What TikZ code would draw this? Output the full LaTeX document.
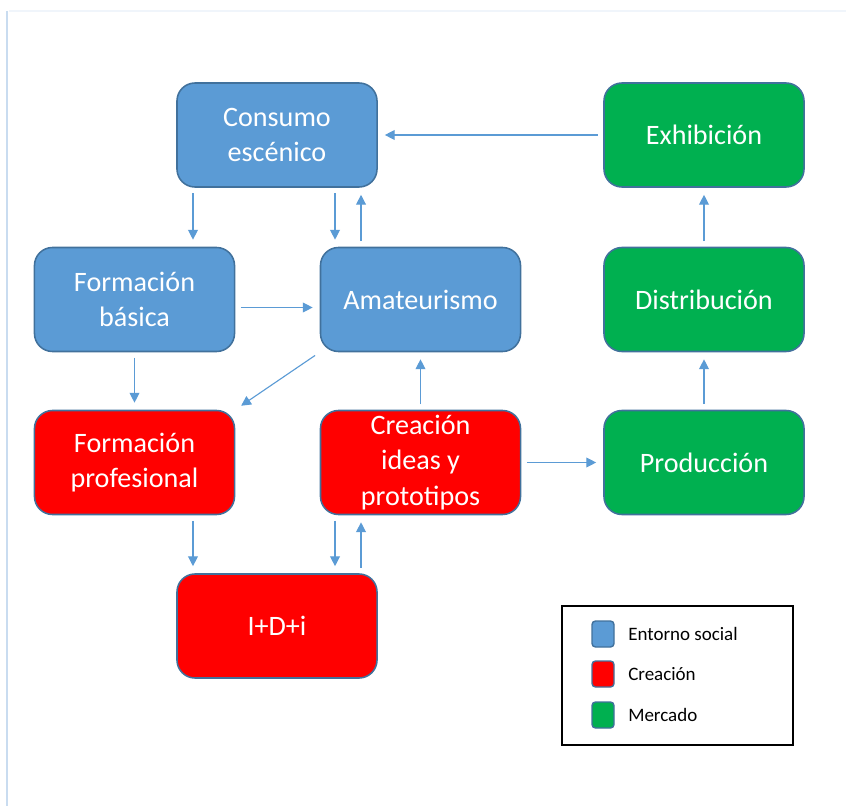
\documentclass[tikz,border=0pt]{standalone}
\usepackage{fontspec}
\setmainfont{Carlito}
\usetikzlibrary{arrows.meta}
\definecolor{socialfill}{HTML}{5B9BD5}
\definecolor{boxedge}{HTML}{41719C}
\definecolor{creafill}{HTML}{FF0000}
\definecolor{mercfill}{HTML}{00B050}
\definecolor{flowcol}{HTML}{5B9BD5}
\definecolor{framecol}{HTML}{C9DCF0}
\definecolor{framefaint}{HTML}{F0F5FB}

\tikzset{
  stage/.style={rectangle, draw=boxedge, line width=1.1pt, rounded corners=0.45cm,
    minimum width=5cm, minimum height=2.6cm, align=center, text=white,
    font=\fontsize{20}{25}\selectfont},
  social/.style={stage, fill=socialfill},
  crea/.style={stage, fill=creafill},
  merc/.style={stage, fill=mercfill},
  flow/.style={-{Triangle[width=7pt,length=7pt]}, flowcol, line width=0.8pt,
    shorten <=4pt, shorten >=5pt},
  swatch/.style={rectangle, draw=boxedge, line width=1pt, rounded corners=2.5pt,
    minimum width=0.55cm, minimum height=0.65cm, inner sep=0pt},
  legtext/.style={anchor=west, inner sep=0pt, font=\fontsize{13.5}{16}\selectfont}
}

\begin{document}
\begin{tikzpicture}[x=0.025cm, y=-0.025cm]
    \useasboundingbox (0,0) rectangle (846,806);
    % page frame
    \draw[framefaint, line width=1pt] (9,11) -- (846,11);
    \draw[framecol, line width=1.5pt] (7,11) -- (7,806);

    % entorno social
    \node[social] (cons) at (277,135) {Consumo\\escénico};
    \node[social] (formb) at (134.5,299.5) {Formación\\básica};
    \node[social] (amat) at (420.5,299.5) {Amateurismo};

    % creacion
    \node[crea] (formp) at (134.5,462.5) {Formación\\profesional};
    \node[crea] (idea) at (420.5,462.5) {Creación\\ideas y\\prototipos};
    \node[crea] (idi) at (277,626) {I+D+i};

    % mercado
    \node[merc] (exhib) at (704,135) {Exhibición};
    \node[merc] (distr) at (704,299.5) {Distribución};
    \node[merc] (prod) at (704,462.5) {Producción};

    % flows
    \draw[flow] (exhib.west) -- (cons.east);
    \draw[flow] ([xshift=-2.1cm]cons.south) -- ([xshift=-2.1cm]cons.south |- formb.north);
    \draw[flow] ([xshift=1.45cm]cons.south) -- ([xshift=1.45cm]cons.south |- amat.north);
    \draw[flow] ([xshift=2.1cm]cons.south |- amat.north) -- ([xshift=2.1cm]cons.south);
    \draw[flow] ([yshift=-0.2cm]formb.east) -- ([yshift=-0.2cm]formb.east -| amat.west);
    \draw[flow] (formb.south) -- (formp.north);
    \draw[flow] (amat.south west) -- (formp.north east);
    \draw[flow] (idea.north) -- (amat.south);
    \draw[flow] (idea.east) -- (prod.west);
    \draw[flow] (prod.north) -- (distr.south);
    \draw[flow] (distr.north) -- (exhib.south);
    \draw[flow] ([xshift=-2.1cm]idi.north |- formp.south) -- ([xshift=-2.1cm]idi.north);
    \draw[flow] ([xshift=1.45cm]idi.north |- idea.south) -- ([xshift=1.45cm]idi.north);
    \draw[flow] ([xshift=2.1cm]idi.north) -- ([xshift=2.1cm]idi.north |- idea.south);

    % legend
    \node[draw=black, line width=1.2pt, minimum width=5.775cm, minimum height=3.475cm] (legend) at (677.5,675.5) {};
    \node[swatch, fill=socialfill] (swsocial) at (603,634) {};
    \node[swatch, fill=creafill] (swcrea) at (603,674) {};
    \node[swatch, fill=mercfill] (swmerc) at (603,715) {};
    \node[legtext] (lsocial) at (628,634) {Entorno social};
    \node[legtext] (lcrea) at (628,674) {Creación};
    \node[legtext] (lmerc) at (628,715) {Mercado};
\end{tikzpicture}
\end{document}
